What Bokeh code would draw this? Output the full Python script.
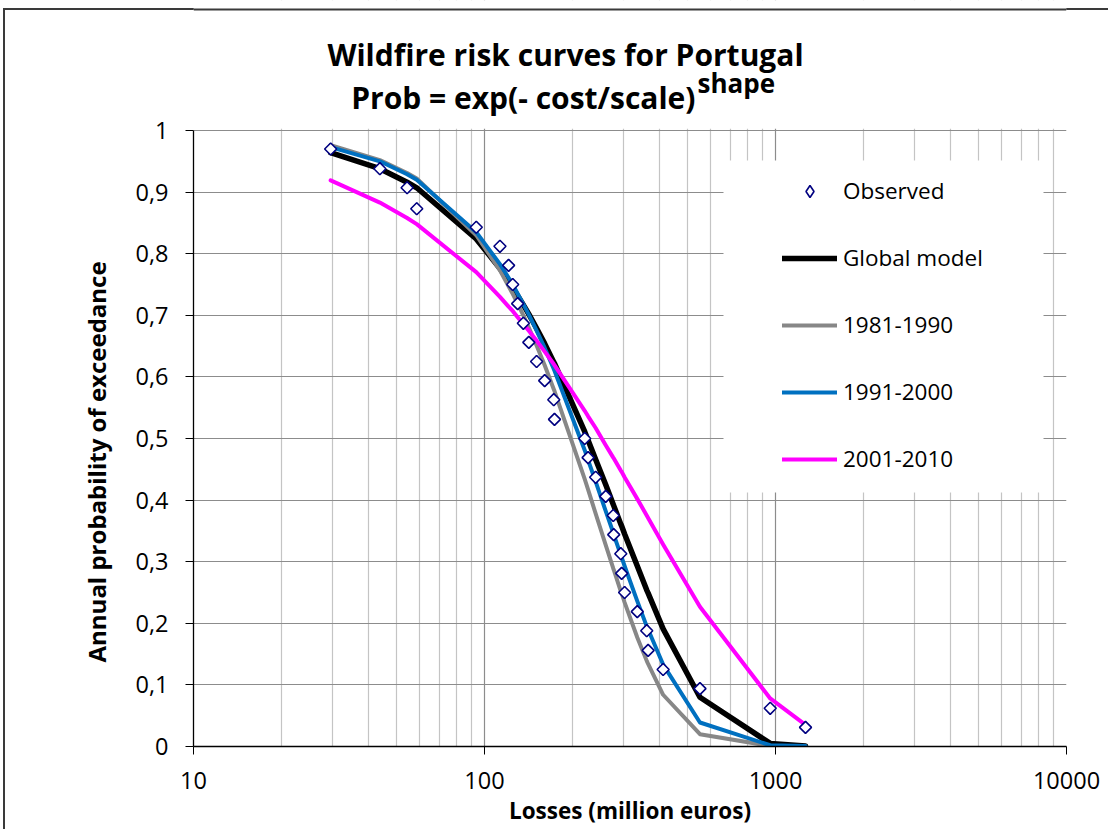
from bokeh.plotting import figure
from bokeh.models import (Range1d, FixedTicker, CustomJSTickFormatter, Legend, LegendItem,
                          BoxAnnotation, Label, Title, Span)
from bokeh.embed import file_html
from bokeh.resources import INLINE
import math

# ---------------- data ----------------
losses = [29.6, 43.7, 54.2, 58.5, 93.7, 113, 121, 125, 130, 136, 142, 151, 161, 173, 174,
          221, 227, 241, 261, 277, 278, 294, 296, 303, 335, 361, 365, 411, 550, 959, 1268]
observed = [0.970, 0.938, 0.907, 0.873, 0.843, 0.812, 0.781, 0.750, 0.719, 0.687, 0.656,
            0.625, 0.594, 0.563, 0.531, 0.500, 0.469, 0.437, 0.406, 0.375, 0.344, 0.313,
            0.281, 0.250, 0.219, 0.188, 0.156, 0.125, 0.094, 0.062, 0.031]
global_model = [0.964, 0.938, 0.916, 0.907, 0.824, 0.776, 0.755, 0.745, 0.732, 0.717, 0.702,
                0.679, 0.654, 0.624, 0.622, 0.511, 0.497, 0.466, 0.425, 0.393, 0.391, 0.361,
                0.358, 0.345, 0.293, 0.254, 0.249, 0.191, 0.080, 0.005, 0.001]
p_1981_1990 = [0.976, 0.952, 0.931, 0.922, 0.830, 0.773, 0.747, 0.735, 0.719, 0.700, 0.680,
               0.651, 0.619, 0.580, 0.577, 0.434, 0.417, 0.378, 0.327, 0.289, 0.287, 0.252,
               0.249, 0.234, 0.177, 0.139, 0.134, 0.084, 0.020, 0.001, 0.000]
p_1991_2000 = [0.973, 0.950, 0.929, 0.920, 0.835, 0.783, 0.761, 0.750, 0.735, 0.718, 0.701,
               0.675, 0.647, 0.613, 0.610, 0.481, 0.465, 0.430, 0.382, 0.347, 0.344, 0.311,
               0.307, 0.293, 0.236, 0.195, 0.190, 0.133, 0.039, 0.002, 0.001]
p_2001_2010 = [0.919, 0.883, 0.858, 0.848, 0.770, 0.730, 0.714, 0.707, 0.697, 0.686, 0.675,
               0.659, 0.641, 0.621, 0.619, 0.545, 0.536, 0.517, 0.489, 0.469, 0.468, 0.448,
               0.446, 0.437, 0.402, 0.375, 0.371, 0.328, 0.227, 0.078, 0.035]

x_major_ticks = [10, 100, 1000, 10000]
x_minor_ticks = [m * 10 ** e for e in (1, 2, 3) for m in range(2, 10)]
y_ticks = [0, 0.1, 0.2, 0.3, 0.4, 0.5, 0.6, 0.7, 0.8, 0.9, 1]

title_1 = "Wildfire risk curves for Portugal"
title_2 = "Prob = exp(- cost/scale)"
title_sup = "shape"
x_title = "Losses (million euros)"
y_title = "Annual probability of exceedance"

FONT = "Open Sans"
BORDER = "#3a3a3a"

# ---------------- layout constants (pixels) ----------------
W, H = 1108, 829
L, R, T, B = 193, 1066, 130, 746      # plot area: x 10..10000, y 0..1
def px_x(px):
    return 10 ** (1 + 3 * (px - L) / (R - L))
def px_y(py):
    return (B - py) / (B - T)

# the frame reaches the top of the canvas so that the title texts can live inside it
p = figure(width=W, height=H, x_axis_type="log",
           x_range=Range1d(10, 10000), y_range=Range1d(0, px_y(0)),
           output_backend="svg", toolbar_location=None,
           min_border_left=L, min_border_right=W - R,
           min_border_top=0, min_border_bottom=H - B)
p.outline_line_color = None
p.background_fill_color = None
p.border_fill_color = None
# outer chart border (left and top edges visible in the reference)
p.styles = {"background": f"linear-gradient({BORDER},{BORDER}) 3px 8px / 2px 2000px no-repeat, "
                          f"linear-gradient({BORDER},{BORDER}) 3px 8px / 2000px 2px no-repeat, white"}

# axes
xa = p.xaxis[0]
xa.ticker = FixedTicker(ticks=x_major_ticks, minor_ticks=x_minor_ticks)
xa.major_label_overrides = {10: "10", 100: "100", 1000: "1000", 10000: "10000"}
xa.axis_line_color = "black"
xa.axis_line_width = 1.3
xa.major_tick_out = 8
xa.major_tick_in = 0
xa.minor_tick_out = 0
xa.minor_tick_in = 0
xa.major_tick_line_color = "black"
xa.major_label_standoff = 17
xa.major_label_text_font = FONT
xa.major_label_text_font_size = "23.5px"
xa.major_label_text_color = "black"
xa.axis_label = x_title
xa.axis_label_standoff = 3
xa.axis_label_text_font = FONT
xa.axis_label_text_font_style = "bold"
xa.axis_label_text_font_size = "22.5px"
xa.axis_label_text_color = "black"

ya = p.yaxis[0]
ya.ticker = FixedTicker(ticks=y_ticks)
ya.bounds = (0, 1)
ya.formatter = CustomJSTickFormatter(
    code="if (tick === 0 || tick === 1) { return tick.toFixed(0); } return tick.toFixed(1).replace('.', ',');")
ya.axis_line_color = "black"
ya.axis_line_width = 1.3
ya.major_tick_out = 8
ya.major_tick_in = 0
ya.minor_tick_out = 0
ya.minor_tick_in = 0
ya.major_tick_line_color = "black"
ya.major_label_standoff = 17
ya.major_label_text_font = FONT
ya.major_label_text_font_size = "23.5px"
ya.major_label_text_color = "black"

# y axis title as a side title, starting where the reference text starts
p.add_layout(Title(text=y_title, align="left", offset=B - 662, standoff=40,
                   text_font=FONT, text_font_style="bold", text_font_size="24px",
                   text_color="black"), "left")

# grids
p.xgrid.grid_line_color = "#8c8c8c"
p.xgrid.grid_line_width = 1.2
p.xgrid.minor_grid_line_color = "#c4c4c4"
p.xgrid.minor_grid_line_width = 1.2
p.ygrid.grid_line_color = "#8c8c8c"
p.ygrid.grid_line_width = 1.2

# hide the vertical gridlines above the plot area (title zone)
p.add_layout(BoxAnnotation(bottom=1.003, fill_color="white", fill_alpha=1.0,
                           line_color=None, level="underlay"))
# top edge of the outer chart border inside the frame's width
p.add_layout(Span(location=px_y(9), dimension="width", line_color=BORDER, line_width=2,
                  level="underlay"))
# white legend box (covers the gridlines)
p.add_layout(BoxAnnotation(left=px_x(723), right=px_x(1043), top=px_y(160), bottom=px_y(492),
                           fill_color="white", fill_alpha=1.0, line_color=None,
                           level="underlay"))

# series
r_glob = p.line(losses, global_model, line_color="black", line_width=5.5,
                line_join="round", line_cap="round")
r_81 = p.line(losses, p_1981_1990, line_color="#878787", line_width=4,
              line_join="round", line_cap="round")
r_91 = p.line(losses, p_1991_2000, line_color="#0070C0", line_width=4,
              line_join="round", line_cap="round")
r_01 = p.line(losses, p_2001_2010, line_color="#FF00FF", line_width=4,
              line_join="round", line_cap="round")
# diamond glyph used for the legend key (hidden under the point markers)
r_obs_key = p.scatter(losses, observed, marker="diamond", size=11, line_color="#000080",
                      fill_color="white", line_width=1.6)
r_obs = p.scatter(losses, observed, marker="square", size=8.5, angle=math.pi / 4,
                  line_color="#000080", fill_color="white", line_width=1.6)

legend = Legend(items=[
    LegendItem(label="Observed", renderers=[r_obs_key]),
    LegendItem(label="Global model", renderers=[r_glob]),
    LegendItem(label="1981-1990", renderers=[r_81]),
    LegendItem(label="1991-2000", renderers=[r_91]),
    LegendItem(label="2001-2010", renderers=[r_01]),
], location=(782 - L, B - 474))
legend.background_fill_alpha = 0
legend.border_line_alpha = 0
legend.padding = 0
legend.margin = 0
legend.glyph_width = 55
legend.glyph_height = 30
legend.label_height = 30
legend.spacing = 36
legend.label_standoff = 6
legend.label_text_font = FONT
legend.label_text_font_size = "22.5px"
legend.label_text_color = "black"
p.add_layout(legend, "center")

# two-line chart title with a superscript (inside the frame's upper zone)
p.add_layout(Label(x=px_x(565), y=px_y(54), text=title_1, text_align="center",
                   text_baseline="alphabetic", text_font=FONT, text_font_style="bold",
                   text_font_size="30px", text_color="black"))
p.add_layout(Label(x=px_x(695), y=px_y(97), text=title_2, text_align="right",
                   text_baseline="alphabetic", text_font=FONT, text_font_style="bold",
                   text_font_size="30px", text_color="black"))
p.add_layout(Label(x=px_x(697), y=px_y(82), text=title_sup, text_align="left",
                   text_baseline="alphabetic", text_font=FONT, text_font_style="bold",
                   text_font_size="26px", text_color="black"))

open("out.html", "w").write(file_html(p, INLINE))
